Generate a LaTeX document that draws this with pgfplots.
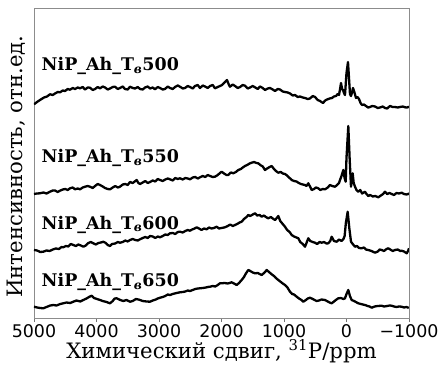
\documentclass[border=0pt]{standalone}
\usepackage{fontspec}
\setmainfont{DejaVu Serif}
\setsansfont{DejaVu Sans}
\usepackage{pgfplots}
\pgfplotsset{compat=1.18}
\begin{document}
\begin{tikzpicture}
\begin{axis}[
  scale only axis, width=375bp, height=310bp,
  at={(0,0)}, anchor=south west,
  xmin=-1000, xmax=5000, ymin=0, ymax=310, x dir=reverse,
  xtick={5000,4000,3000,2000,1000,0,-1000},
  xticklabels={5000,4000,3000,2000,1000,0,−1000},
  ytick=\empty,
  xtick pos=left, tick align=outside,
  major tick length=4bp,
  every tick/.style={black!55, line width=0.8bp},
  axis line style={black!45, line width=0.8bp},
  xticklabel style={font=\sffamily\fontsize{17.5}{17.5}\selectfont, anchor=base, yshift=-15bp},
  xlabel={Химический сдвиг, \textsuperscript{31}P/ppm},
  ylabel={Интенсивность, отн.ед.},
  xlabel style={font=\fontsize{21.3}{21.3}\selectfont, at={(axis description cs:0.5,0)}, anchor=base, yshift=-40bp},
  ylabel style={font=\fontsize{21.3}{21.3}\selectfont, at={(axis description cs:0,0.5)}, anchor=base, xshift=-3.5bp, yshift=11bp},
  every axis plot post/.append style={black, line width=2.3bp, line join=round, mark=none},
]
% 500
\addplot coordinates {
(5000,213.7)(4952,216)(4904,218)(4840,220.5)(4792,221.5)(4744,223.7)(4700,223)(4664,224.5)(4620,226)(4584,225.7)
(4540,227.5)(4504,227)(4460,229)(4424,228.3)(4380,230)(4344,229)(4300,230.5)(4264,229.7)(4220,231)(4184,228.5)
(4140,230.5)(4104,230.3)(4060,228)(4024,229)(3980,231)(3944,229.7)(3900,231.5)(3864,230.5)(3820,228.5)(3784,229.5)
(3740,231)(3704,231.3)(3660,229)(3624,230)(3580,231.5)(3544,229)(3500,228.5)(3464,231.3)(3420,230)(3384,229.5)
(3340,231)(3304,229)(3260,228.5)(3224,230.5)(3180,231.5)(3144,229.5)(3100,230.5)(3064,228.7)(3020,231)(2984,230)
(2940,228.5)(2904,229)(2860,231.5)(2824,230)(2780,229)(2744,231)(2700,232.5)(2664,231.3)(2620,229.5)(2584,230)
(2540,232)(2504,231)(2460,229.5)(2424,232)(2380,233)(2344,230)(2300,232.5)(2264,231.5)(2220,230)(2184,232)
(2140,233)(2104,229.7)(2060,231)(2024,232)(1990,233)(1960,235)(1912,238)(1880,233)(1864,231.3)(1820,233.5)
(1784,232)(1740,230)(1704,231)(1660,233)(1624,232.3)(1580,229.5)(1544,230.5)(1500,232)(1464,230.7)(1420,229)
(1384,231.5)(1340,230)(1304,228)(1260,229.5)(1224,230)(1180,228.5)(1144,227)(1100,229)(1064,228.5)(1020,226.5)
(984,226)(940,225.5)(904,224.5)(860,222.5)(824,223)(780,221)(744,221.5)(700,220.5)(664,220)(620,219)
(584,219.5)(540,222)(504,221)(460,218)(424,217)(400,216)(376,215)(340,217.5)(312,218.5)(270,219.5)
(232,220)(200,221.5)(168,222)(140,224)(120,223)(100,230)(88,235)(70,229)(56,228)(40,225)
(24,223)(0,245)(-24,256)(-40,240)(-56,224)(-72,222)(-90,226)(-104,230)(-130,225)(-152,220)
(-175,221)(-200,219)(-225,215)(-248,213)(-280,213.5)(-312,212)(-345,210.5)(-376,211)(-410,212)(-456,211.5)
(-500,210)(-536,210.5)(-580,211.5)(-616,210)(-650,209.5)(-696,212)(-740,211)(-776,211)(-820,210.5)(-856,211)
(-900,211.5)(-936,210.7)(-970,210.5)(-1000,211.3)
};
% 550
\addplot coordinates {
(5000,124)(4952,124.5)(4904,124.7)(4850,125.5)(4800,124.5)(4744,126.3)(4700,127.5)(4664,127.5)(4620,126)(4584,127.3)
(4540,128.5)(4500,129)(4460,128)(4424,129.7)(4380,130.5)(4344,128.7)(4300,129.5)(4264,128.7)(4220,130.5)(4184,131.3)
(4140,132)(4104,131.3)(4060,130)(4024,132)(3980,134)(3944,133)(3900,131.5)(3864,130)(3820,129)(3784,128.7)
(3740,130.5)(3700,132)(3660,130.5)(3624,131.3)(3580,133.5)(3540,134)(3500,133)(3464,136)(3420,135)(3357,138)
(3330,135)(3304,134)(3260,135.5)(3220,137)(3180,135)(3144,136)(3100,137.5)(3060,136.5)(3020,139)(2984,138)
(2940,137)(2900,138.5)(2860,139.5)(2824,138.7)(2780,137.5)(2740,140)(2700,139)(2664,139.7)(2620,138.5)(2580,140)
(2540,139.5)(2504,138.7)(2460,140.5)(2420,141)(2380,139.5)(2344,140.7)(2300,142)(2260,141)(2220,143)(2184,142)
(2140,141)(2104,141.3)(2060,143)(2024,145)(1997,146.3)(1960,144.5)(1920,143)(1891,143)(1850,145.5)(1811,144.7)
(1770,146)(1731,148)(1690,149)(1660,150.5)(1624,152)(1590,153)(1550,154.5)(1517,155.3)(1480,156)(1440,155)
(1411,154.7)(1380,153)(1340,151.5)(1304,148)(1270,149.5)(1230,151)(1197,152)(1160,149)(1130,147)(1091,145.3)
(1050,146)(1020,144.5)(984,144)(950,142.5)(910,140)(877,138)(840,137)(800,136.5)(771,135.3)(730,134)
(700,133.5)(664,133)(640,132)(611,134.7)(580,131)(557,128)(520,129)(490,130.5)(451,129.7)(420,128)
(380,129)(344,128.7)(300,130.5)(264,133)(230,132)(184,131.3)(150,133)(120,135)(104,138)(80,142)
(51,148)(30,140)(13,136.3)(0,160)(-29,192)(-50,160)(-72,131.3)(-85,138)(-99,144.7)(-115,135)
(-136,131.3)(-160,128)(-189,126.3)(-220,128)(-250,124.5)(-296,126.3)(-320,124)(-349,122)(-380,123)(-420,121.5)
(-460,122)(-509,120.7)(-550,122.5)(-585,124)(-616,126.3)(-650,124)(-690,125)(-723,124)(-760,123)(-800,125)
(-840,124.5)(-883,125.3)(-920,124)(-960,123.5)(-989,124)(-1000,125)
};
% 600
\addplot coordinates {
(5000,68)(4950,67.5)(4900,66)(4851,66.3)(4800,67.5)(4750,67)(4691,68.7)(4650,69.5)(4600,69)(4560,71)
(4531,70.7)(4490,72)(4450,71.5)(4410,74)(4371,73)(4330,72)(4290,73.5)(4250,72.5)(4211,71.3)(4170,72.5)
(4130,75)(4090,76)(4051,74.7)(4010,73.5)(3970,75)(3930,75.5)(3891,76.3)(3850,75)(3820,73)(3784,72)
(3750,74)(3700,74.5)(3660,76)(3624,75.3)(3580,76)(3540,77.5)(3500,76.5)(3464,78)(3420,79)(3380,78)
(3340,77.5)(3304,78.7)(3260,80)(3220,81)(3180,80)(3144,82)(3100,81.5)(3060,80)(3020,81.5)(2984,80.7)
(2940,82)(2900,83.5)(2860,83)(2824,84.7)(2780,85)(2740,84)(2700,86)(2664,86.3)(2620,85.5)(2580,87)
(2540,88)(2504,87.3)(2470,88.5)(2430,89.5)(2397,90.7)(2360,89.5)(2320,88)(2280,89.5)(2237,88.7)(2200,90.5)
(2160,89.5)(2120,90)(2077,91.3)(2040,89.5)(2000,90)(1944,90.7)(1900,92)(1860,93.5)(1820,92)(1784,93)
(1750,94)(1710,95.5)(1677,96.3)(1640,99)(1600,101)(1571,103)(1540,102)(1500,103.5)(1464,104.7)(1430,102.5)
(1390,103)(1357,101.3)(1320,102.5)(1290,101)(1251,99.7)(1210,101)(1180,99.5)(1144,98)(1115,100)(1091,102)
(1060,97)(1020,94)(984,91.3)(950,88)(910,86)(877,83)(840,81.5)(800,80.5)(771,79.7)(740,76)
(700,74)(664,71.3)(640,75)(611,79.7)(580,77)(540,76)(504,75.3)(470,74)(430,76)(397,75.3)
(360,76)(320,74.5)(291,74.7)(260,77)(237,81.3)(200,77)(157,76.3)(120,78.5)(80,77)(51,78.7)
(30,82)(10,95)(-19,106.3)(-45,90)(-72,76.3)(-100,74)(-136,71.3)(-170,72)(-200,70)(-243,69.7)
(-280,70.5)(-310,68.5)(-349,68)(-400,67)(-456,65.3)(-500,66.5)(-530,68.5)(-563,68)(-600,67)(-640,69)
(-669,69.7)(-700,68.5)(-740,67)(-776,68)(-820,68.5)(-860,67)(-883,67.3)(-920,66.5)(-963,64.7)(-985,67)
(-1000,69.7)
};
% 650
\addplot coordinates {
(5000,11.3)(4950,10.5)(4900,10)(4851,9.7)(4800,11)(4740,12.5)(4691,13)(4640,12.5)(4580,14)(4531,14.7)
(4480,15.5)(4420,15)(4371,16.3)(4320,17.5)(4260,16.5)(4211,18)(4160,19.5)(4120,21)(4077,22.3)(4040,20)
(3990,19)(3944,18)(3900,17)(3840,16)(3784,14.7)(3740,17)(3710,19.5)(3677,19.7)(3620,18)(3571,17)
(3520,18)(3464,16.3)(3420,17)(3370,19)(3330,18.5)(3304,18)(3260,17)(3200,16.5)(3144,16.3)(3100,17.5)
(3050,18.5)(3020,19.5)(2984,20.3)(2940,21)(2900,22)(2860,23.5)(2824,23)(2780,24)(2720,25)(2664,25.7)
(2620,26)(2580,26.5)(2540,27.5)(2504,27)(2460,28)(2420,29)(2380,29.5)(2344,29.7)(2300,30)(2250,30.5)
(2220,31)(2184,31.3)(2140,32)(2100,31.5)(2060,33)(2024,34.7)(1997,34.7)(1950,35)(1900,34.5)(1870,35)
(1837,35.7)(1800,34.5)(1757,33)(1720,35)(1677,38)(1640,41)(1610,44.5)(1571,48)(1540,47)(1500,45.5)
(1464,44.7)(1420,45)(1390,44)(1357,43)(1320,45)(1290,47)(1277,48)(1240,46)(1197,43.7)(1160,42)
(1130,40)(1091,38)(1050,36)(1020,34.5)(984,33)(950,31)(904,26.3)(870,24)(840,23.5)(797,21.3)
(760,19.5)(720,18)(691,16.3)(650,18)(620,19.5)(584,20.3)(540,19)(510,18)(477,17)(440,17.5)
(400,18.5)(344,18)(300,16.5)(270,15.5)(237,14.7)(200,16.5)(160,18.5)(131,19.7)(90,20)(50,19)
(24,19.7)(0,24)(-29,28)(-55,22)(-83,18)(-120,17)(-150,16)(-189,14.7)(-230,14)(-260,13.5)
(-296,13)(-340,12)(-370,11.5)(-403,10.3)(-450,11.5)(-500,12)(-563,12.3)(-600,11.5)(-650,12)(-690,12.5)
(-723,12.3)(-760,11.5)(-800,11)(-840,11.5)(-883,11.3)(-920,10.5)(-960,11)(-989,10.3)(-1000,11)
};
\begin{scope}[every node/.style={anchor=base west, inner sep=0pt, font=\bfseries\fontsize{17.5}{17.5}\selectfont}]
\node at (axis cs:4880,247.3) {NiP\_Ah\_T\textsubscript{\itshape в}500};
\node at (axis cs:4880,155.3) {NiP\_Ah\_T\textsubscript{\itshape в}550};
\node at (axis cs:4880,89) {NiP\_Ah\_T\textsubscript{\itshape в}600};
\node at (axis cs:4880,31.3) {NiP\_Ah\_T\textsubscript{\itshape в}650};
\end{scope}
\end{axis}
\pgfresetboundingbox
\useasboundingbox (-34bp,-51bp) rectangle (407bp,318bp);
\end{tikzpicture}
\end{document}
